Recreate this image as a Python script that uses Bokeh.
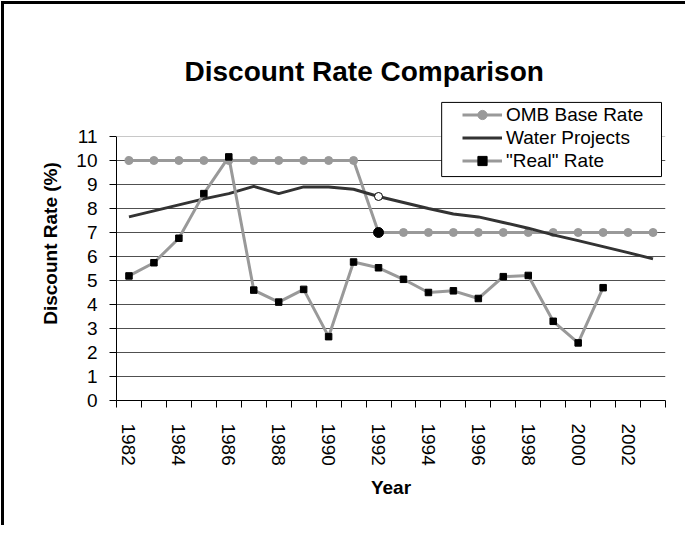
import math
from bokeh.plotting import figure
from bokeh.models import Range1d, FixedTicker, Span, Title, Legend, LegendItem, BoxAnnotation
from bokeh.embed import file_html
from bokeh.resources import INLINE

# ---------------- data ----------------
years = [1982, 1983, 1984, 1985, 1986, 1987, 1988, 1989, 1990, 1991, 1992,
         1993, 1994, 1995, 1996, 1997, 1998, 1999, 2000, 2001, 2002, 2003]
omb_rate = [10, 10, 10, 10, 10, 10, 10, 10, 10, 10, 7,
            7, 7, 7, 7, 7, 7, 7, 7, 7, 7, 7]
water_projects = [7.65, 7.9, 8.15, 8.4, 8.62, 8.92, 8.62, 8.9, 8.9, 8.8, 8.5,
                  8.25, 8.0, 7.77, 7.65, 7.42, 7.18, 6.9, 6.66, 6.41, 6.16, 5.9]
real_years = [1982, 1983, 1984, 1985, 1986, 1987, 1988, 1989, 1990, 1991,
              1992, 1993, 1994, 1995, 1996, 1997, 1998, 1999, 2000, 2001]
real_rate = [5.19, 5.74, 6.76, 8.62, 10.15, 4.6, 4.1, 4.63, 2.66, 5.77,
             5.53, 5.05, 4.5, 4.57, 4.25, 5.16, 5.21, 3.3, 2.4, 4.7]
highlight_year = 1992
x_tick_labels = ["1982", "1984", "1986", "1988", "1990", "1992",
                 "1994", "1996", "1998", "2000", "2002"]
y_ticks = [0, 1, 2, 3, 4, 5, 6, 7, 8, 9, 10, 11]

FONT = "Liberation Sans"
GREY = "#999999"
DARK = "#333333"

p = figure(width=684, height=524,
           x_range=Range1d(1981.5, 2003.5), y_range=Range1d(0, 13.083),
           output_backend="svg", toolbar_location=None,
           min_border_left=112, min_border_right=23,
           min_border_top=82, min_border_bottom=128,
           background_fill_color="white", border_fill_color="white",
           styles={"border-top": "3px solid #000", "border-left": "3px solid #000",
                   "margin": "1px 0 0 1px"})
p.outline_line_color = None
p.xgrid.visible = False
p.ygrid.ticker = FixedTicker(ticks=y_ticks[1:-1])
p.ygrid.grid_line_color = "#505050"
p.ygrid.grid_line_width = 1
p.add_layout(Span(location=y_ticks[-1], dimension="width", line_color="#c8c8c8", line_width=1))

# chart title
p.add_layout(Title(text="Discount Rate Comparison", align="left", offset=68, standoff=0,
                   text_font=FONT, text_font_size="28px", text_font_style="bold",
                   text_color="black"), "above")

# y axis
p.yaxis.bounds = (y_ticks[0], y_ticks[-1])
p.yaxis.ticker = FixedTicker(ticks=y_ticks)
p.yaxis.axis_line_color = "black"
p.yaxis.major_tick_line_color = "black"
p.yaxis.major_tick_out = 7
p.yaxis.major_tick_in = 0
p.yaxis.minor_tick_line_color = None
p.yaxis.major_label_standoff = 12
p.yaxis.major_label_text_font = FONT
p.yaxis.major_label_text_font_size = "19px"
p.yaxis.major_label_text_color = "black"
p.yaxis.axis_label = "Discount Rate (%)"
p.yaxis.axis_label_text_font = FONT
p.yaxis.axis_label_text_font_size = "19px"
p.yaxis.axis_label_text_font_style = "bold"
p.yaxis.axis_label_text_color = "black"
p.yaxis.axis_label_standoff = 12

# x axis (category boundaries as minor ticks, labels at every second year)
boundaries = [y - 0.5 for y in years] + [years[-1] + 0.5]
p.xaxis.ticker = FixedTicker(ticks=[int(t) for t in x_tick_labels], minor_ticks=boundaries)
p.xaxis.major_label_overrides = {int(t): t for t in x_tick_labels}
p.xaxis.axis_line_color = "black"
p.xaxis.major_tick_out = 0
p.xaxis.major_tick_in = 0
p.xaxis.major_tick_line_color = None
p.xaxis.minor_tick_line_color = "black"
p.xaxis.minor_tick_out = 7
p.xaxis.minor_tick_in = 0
p.xaxis.major_label_orientation = -math.pi / 2
p.xaxis.major_label_standoff = 16
p.xaxis.major_label_text_font = FONT
p.xaxis.major_label_text_font_size = "19px"
p.xaxis.major_label_text_color = "black"
p.xaxis.axis_label = "Year"
p.xaxis.axis_label_text_font = FONT
p.xaxis.axis_label_text_font_size = "19px"
p.xaxis.axis_label_text_font_style = "bold"
p.xaxis.axis_label_text_color = "black"
p.xaxis.axis_label_standoff = 8

# series
omb_line = p.line(years, omb_rate, line_color=GREY, line_width=3)
omb_pts = p.scatter(years, omb_rate, marker="circle", size=8, fill_color=GREY, line_color=GREY)
water_line = p.line(years, water_projects, line_color=DARK, line_width=3)
hi = years.index(highlight_year)
p.scatter([highlight_year], [omb_rate[hi]], marker="circle", size=10, fill_color="black", line_color="black")
p.scatter([highlight_year], [water_projects[hi]], marker="circle", size=8,
          fill_color="white", line_color="black", line_width=1)
real_line = p.line(real_years, real_rate, line_color=GREY, line_width=3)
real_pts = p.scatter(real_years, real_rate, marker="square", size=6.5, fill_color="black", line_color="black")

# legend box + legend
p.add_layout(BoxAnnotation(left=1994.53, right=2003.34, bottom=9.33, top=12.42,
                           fill_color="white", fill_alpha=1.0,
                           line_color="black", line_width=1, line_alpha=1.0))
legend = Legend(items=[
    LegendItem(label="OMB Base Rate", renderers=[omb_line, omb_pts]),
    LegendItem(label="Water Projects", renderers=[water_line]),
    LegendItem(label='"Real" Rate', renderers=[real_line, real_pts]),
], location=(346, 228), padding=0, spacing=0, margin=0,
    glyph_width=40, glyph_height=23, label_height=23, label_standoff=4,
    label_text_font=FONT, label_text_font_size="19px", label_text_color="black",
    border_line_color=None, background_fill_alpha=0)
p.add_layout(legend, "center")

open("out.html", "w").write(file_html(p, INLINE))
